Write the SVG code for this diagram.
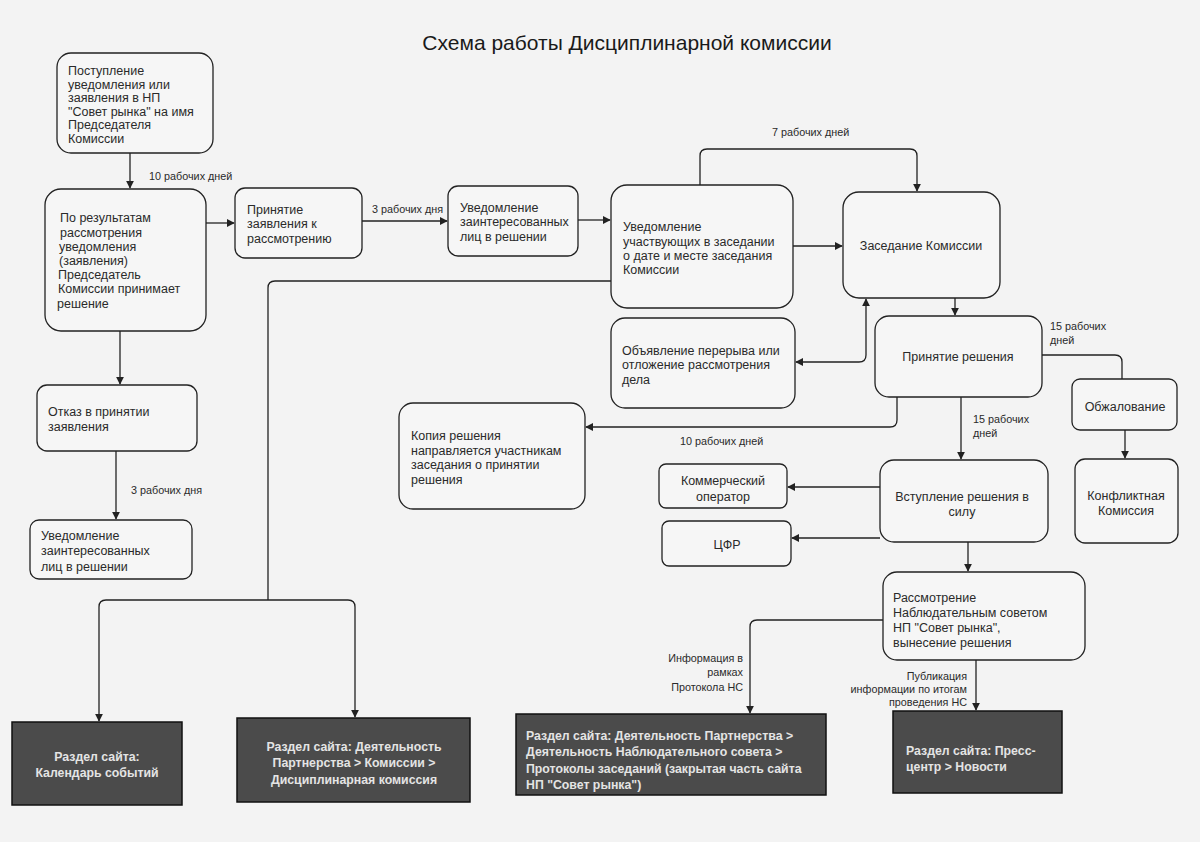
<svg xmlns="http://www.w3.org/2000/svg" width="1200" height="842" viewBox="0 0 1200 842">
<defs>
<style>
.n{fill:#f6f6f6;stroke:#222;stroke-width:1.3}
.d{fill:#4b4b4b;stroke:#111;stroke-width:1.5}
.t{font-family:"Liberation Sans",Arial,sans-serif;font-size:12.5px;fill:#2a2a2a}
.c{text-anchor:middle}
.l{font-family:"Liberation Sans",Arial,sans-serif;font-size:10.8px;fill:#2a2a2a}
.r{text-anchor:end}
.w{font-family:"Liberation Sans",Arial,sans-serif;font-size:12.3px;font-weight:bold;fill:#e4e4e4}
.e{fill:none;stroke:#222;stroke-width:1.3}
</style>
<marker id="a" viewBox="0 0 10 10" refX="9" refY="5" markerWidth="8" markerHeight="8" markerUnits="userSpaceOnUse" orient="auto-start-reverse"><path d="M0 0L10 5L0 10z" fill="#222"/></marker>
</defs>
<rect width="1200" height="842" fill="#f3f3f3"/>
<text x="627" y="50" class="t c" style="font-size:21px;fill:#1a1a1a">Схема работы Дисциплинарной комиссии</text>

<g id="connectors">
<path class="e" d="M130 153V188" marker-end="url(#a)"/>
<path class="e" d="M206 223H234" marker-end="url(#a)"/>
<path class="e" d="M362 221H447" marker-end="url(#a)"/>
<path class="e" d="M578 220H610" marker-end="url(#a)"/>
<path class="e" d="M793 246H842" marker-end="url(#a)"/>
<path class="e" d="M700 185V156Q700 149 707 149H910Q917 149 917 156V191" marker-end="url(#a)"/>
<path class="e" d="M955 298V315" marker-end="url(#a)"/>
<path class="e" d="M1042 355H1115Q1122 355 1122 362V379"/>
<path class="e" d="M1125 430V458" marker-end="url(#a)"/>
<path class="e" d="M796 362H859Q866 362 866 355V299" marker-start="url(#a)" marker-end="url(#a)"/>
<path class="e" d="M897 397V420Q897 427 890 427H586" marker-end="url(#a)"/>
<path class="e" d="M961 397V459" marker-end="url(#a)"/>
<path class="e" d="M880 487H788" marker-end="url(#a)"/>
<path class="e" d="M880 538H792" marker-end="url(#a)"/>
<path class="e" d="M968 542V571" marker-end="url(#a)"/>
<path class="e" d="M883 620H757Q750 620 750 627V713" marker-end="url(#a)"/>
<path class="e" d="M976 660V710" marker-end="url(#a)"/>
<path class="e" d="M120 331V384" marker-end="url(#a)"/>
<path class="e" d="M116 451V519" marker-end="url(#a)"/>
<path class="e" d="M611 281H275Q268 281 268 288V600"/>
<path class="e" d="M268 600H106Q99 600 99 607V721" marker-end="url(#a)"/>
<path class="e" d="M268 600H348Q355 600 355 607V717" marker-end="url(#a)"/>
<text class="l" x="149" y="180">10 рабочих дней</text>
<text class="l" x="372" y="213">3 рабочих дня</text>
<text class="l" x="772" y="136">7 рабочих дней</text>
<text class="l" x="1050" y="330">15 рабочих</text>
<text class="l" x="1050" y="344">дней</text>
<text class="l" x="973" y="423">15 рабочих</text>
<text class="l" x="973" y="437">дней</text>
<text class="l" x="680" y="445">10 рабочих дней</text>
<text class="l" x="131" y="494">3 рабочих дня</text>
<text class="l r" x="743" y="662">Информация в</text>
<text class="l r" x="743" y="676">рамках</text>
<text class="l r" x="743" y="691">Протокола НС</text>
<text class="l r" x="967" y="680">Публикация</text>
<text class="l r" x="967" y="693">информации по итогам</text>
<text class="l r" x="967" y="706">проведения НС</text>
</g>

<g id="n1"><rect class="n" x="57" y="53" width="156" height="100" rx="14"/>
<text class="t" x="68" y="75">Поступление</text><text class="t" x="68" y="88.5">уведомления или</text><text class="t" x="68" y="102">заявления в НП</text><text class="t" x="68" y="115.5">"Совет рынка" на имя</text><text class="t" x="68" y="129">Председателя</text><text class="t" x="68" y="142.5">Комиссии</text></g>

<g id="n2"><rect class="n" x="45" y="189" width="161" height="142" rx="16"/>
<text class="t" x="60" y="222">По результатам</text><text class="t" x="60" y="236.5">рассмотрения</text><text class="t" x="59" y="251">уведомления</text><text class="t" x="59" y="265">(заявления)</text><text class="t" x="58" y="279">Председатель</text><text class="t" x="58" y="293">Комиссии принимает</text><text class="t" x="57" y="307.5">решение</text></g>

<g id="n3"><rect class="n" x="235" y="188" width="127" height="70" rx="10"/>
<text class="t" x="247" y="214">Принятие</text><text class="t" x="247" y="228">заявления к</text><text class="t" x="247" y="243">рассмотрению</text></g>

<g id="n4"><rect class="n" x="448" y="186" width="130" height="70" rx="10"/>
<text class="t" x="460" y="212">Уведомление</text><text class="t" x="460" y="226">заинтересованных</text><text class="t" x="460" y="241">лиц в решении</text></g>

<g id="n5"><rect class="n" x="611" y="185" width="182" height="123" rx="16"/>
<text class="t" x="623" y="231">Уведомление</text><text class="t" x="623" y="246">участвующих в заседании</text><text class="t" x="623" y="260">о дате и месте заседания</text><text class="t" x="623" y="274">Комиссии</text></g>

<g id="n6"><rect class="n" x="843" y="192" width="157" height="106" rx="16"/>
<text class="t c" x="921" y="250">Заседание Комиссии</text></g>

<g id="n7"><rect class="n" x="875" y="316" width="167" height="81" rx="14"/>
<text class="t c" x="958" y="361">Принятие решения</text></g>

<g id="n8"><rect class="n" x="1072" y="379" width="105" height="51" rx="8"/>
<text class="t c" x="1125" y="411">Обжалование</text></g>

<g id="n9"><rect class="n" x="1075" y="459" width="103" height="84" rx="10"/>
<text class="t c" x="1126" y="500">Конфликтная</text><text class="t c" x="1126" y="515">Комиссия</text></g>

<g id="n10"><rect class="n" x="611" y="318" width="184" height="90" rx="14"/>
<text class="t" x="622" y="355">Объявление перерыва или</text><text class="t" x="622" y="369">отложение рассмотрения</text><text class="t" x="622" y="384">дела</text></g>

<g id="n11"><rect class="n" x="399" y="403" width="186" height="106" rx="14"/>
<text class="t" x="411" y="440">Копия решения</text><text class="t" x="411" y="454.5">направляется участникам</text><text class="t" x="411" y="469">заседания о принятии</text><text class="t" x="411" y="483.5">решения</text></g>

<g id="n12"><rect class="n" x="880" y="460" width="168" height="82" rx="14"/>
<text class="t c" x="962" y="501">Вступление решения в</text><text class="t c" x="962" y="516">силу</text></g>

<g id="n13"><rect class="n" x="659" y="464" width="128" height="44" rx="7"/>
<text class="t c" x="723" y="485">Коммерческий</text><text class="t c" x="723" y="501">оператор</text></g>

<g id="n14"><rect class="n" x="662" y="521" width="129" height="45" rx="7"/>
<text class="t c" x="727" y="549">ЦФР</text></g>

<g id="n15"><rect class="n" x="883" y="572" width="202" height="88" rx="14"/>
<text class="t" x="893" y="602">Рассмотрение</text><text class="t" x="893" y="617">Наблюдательным советом</text><text class="t" x="893" y="632">НП "Совет рынка",</text><text class="t" x="893" y="647">вынесение решения</text></g>

<g id="n16"><rect class="n" x="37" y="385" width="160" height="66" rx="10"/>
<text class="t" x="48" y="416">Отказ в принятии</text><text class="t" x="48" y="431">заявления</text></g>

<g id="n17"><rect class="n" x="30" y="520" width="162" height="59" rx="9"/>
<text class="t" x="41" y="540">Уведомление</text><text class="t" x="41" y="555">заинтересованных</text><text class="t" x="41" y="571">лиц в решении</text></g>

<g id="d1"><rect class="d" x="12" y="722" width="170" height="83"/>
<text class="w c" x="97" y="761">Раздел сайта:</text><text class="w c" x="97" y="777">Календарь событий</text></g>

<g id="d2"><rect class="d" x="237" y="718" width="233" height="84"/>
<text class="w c" x="354" y="751">Раздел сайта: Деятельность</text><text class="w c" x="354" y="767">Партнерства &gt; Комиссии &gt;</text><text class="w c" x="354" y="784">Дисциплинарная комиссия</text></g>

<g id="d3"><rect class="d" x="516" y="714" width="310" height="81"/>
<text class="w" x="526" y="740">Раздел сайта: Деятельность Партнерства &gt;</text><text class="w" x="526" y="756">Деятельность Наблюдательного совета &gt;</text><text class="w" x="526" y="773">Протоколы заседаний (закрытая часть сайта</text><text class="w" x="526" y="789">НП "Совет рынка")</text></g>

<g id="d4"><rect class="d" x="893" y="711" width="169" height="82"/>
<text class="w" x="906" y="755">Раздел сайта: Пресс-</text><text class="w" x="906" y="771">центр &gt; Новости</text></g>
</svg>
